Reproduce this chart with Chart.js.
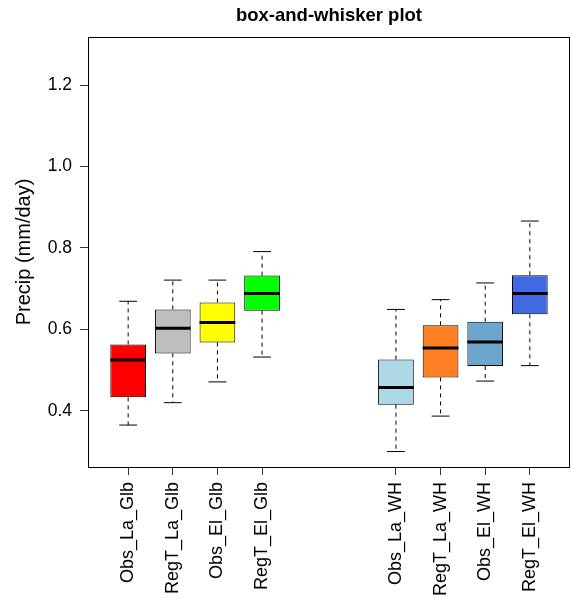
<!DOCTYPE html>
<html>
<head>
<meta charset="utf-8">
<script src="https://cdn.jsdelivr.net/npm/chart.js@4.4.1/dist/chart.umd.min.js"></script>
<style>
  html, body { margin: 0; padding: 0; background: #fff; }
  #wrap { width: 571px; height: 598px; }
</style>
</head>
<body>
<div id="wrap"><canvas id="chart" width="571" height="598"></canvas></div>
<script>
// ---------- data ----------
const labels = ['Obs_La_Glb', 'RegT_La_Glb', 'Obs_El_Glb', 'RegT_El_Glb', 'Obs_La_WH', 'RegT_La_WH', 'Obs_El_WH', 'RegT_El_WH'];
const positions = [1, 2, 3, 4, 7, 8, 9, 10];
const lowerWhisker = [0.365, 0.420, 0.471, 0.532, 0.300, 0.387, 0.473, 0.511];
const q1 = [0.433, 0.541, 0.568, 0.646, 0.415, 0.482, 0.510, 0.637];
const median = [0.525, 0.603, 0.617, 0.688, 0.457, 0.554, 0.569, 0.688];
const q3 = [0.563, 0.649, 0.666, 0.732, 0.526, 0.610, 0.619, 0.733];
const upperWhisker = [0.669, 0.721, 0.721, 0.791, 0.649, 0.673, 0.714, 0.866];
const boxColors = ['#FF0000', '#BEBEBE', '#FFFF00', '#00FF00', '#ADD8E6', '#FF7F24', '#6CA6CD', '#4169E1'];
const yTicks = [0.4, 0.6, 0.8, 1.0, 1.2];

Chart.defaults.font.family = "'Liberation Sans', Arial, sans-serif";
Chart.defaults.color = '#000';

// segments joined into one line dataset, broken by null points
function segments(list) {
  const out = [];
  list.forEach(([a, b]) => { out.push(a, b, { x: b.x, y: null }); });
  return out;
}

const whiskerSegs = [], capSegs = [], medianSegs = [];
positions.forEach((x, i) => {
  whiskerSegs.push([{ x, y: q3[i] }, { x, y: upperWhisker[i] }], [{ x, y: q1[i] }, { x, y: lowerWhisker[i] }]);
  capSegs.push([{ x: x - 0.2, y: upperWhisker[i] }, { x: x + 0.2, y: upperWhisker[i] }],
               [{ x: x - 0.2, y: lowerWhisker[i] }, { x: x + 0.2, y: lowerWhisker[i] }]);
  medianSegs.push([{ x: x - 0.4, y: median[i] }, { x: x + 0.4, y: median[i] }]);
});

const lineBase = { type: 'line', pointRadius: 0, spanGaps: false, fill: false, tension: 0 };

// frame around the plot region (R style box)
const frame = {
  id: 'frame',
  afterDatasetsDraw(chart) {
    const a = chart.chartArea, ctx = chart.ctx;
    ctx.save();
    ctx.strokeStyle = '#000';
    ctx.lineWidth = 1;
    ctx.strokeRect(Math.round(a.left) + 0.5, Math.round(a.top) + 0.5, Math.round(a.right - a.left) - 1, Math.round(a.bottom - a.top));
    ctx.restore();
  }
};

new Chart(document.getElementById('chart'), {
  type: 'bar',
  data: {
    datasets: [
      { ...lineBase, data: segments(medianSegs), borderColor: '#000', borderWidth: 3, order: 0 },
      { ...lineBase, data: segments(capSegs), borderColor: '#000', borderWidth: 1, order: 1 },
      { ...lineBase, data: segments(whiskerSegs), borderColor: '#000', borderWidth: 1, borderDash: [4, 4], order: 2 },
      {
        type: 'bar',
        data: positions.map((x, i) => ({ x, y: [q1[i], q3[i]] })),
        backgroundColor: boxColors, borderColor: '#000', borderWidth: 1, borderSkipped: false,
        barPercentage: 0.8, categoryPercentage: 1, order: 3
      }
    ]
  },
  options: {
    responsive: false, animation: false, events: [],
    layout: { padding: { left: 0, right: 1, top: 0, bottom: 0 } },
    plugins: {
      legend: { display: false }, tooltip: { enabled: false },
      title: { display: true, text: 'box-and-whisker plot', fullSize: false, color: '#000', font: { size: 18.5, weight: 'bold' }, padding: { top: 5, bottom: 9.8 } }
    },
    scales: {
      x: {
        type: 'linear', min: 0.1, max: 10.9, offset: false,
        afterBuildTicks: (s) => { s.ticks = positions.map((v) => ({ value: v })); },
        afterFit: (s) => { s.height = 131; },
        border: { display: false },
        grid: { drawOnChartArea: false, drawTicks: true, tickLength: 8, color: '#333', offset: false },
        ticks: { color: '#000', font: { size: 18 }, padding: 7, minRotation: 90, maxRotation: 90, autoSkip: false, callback: (v, i) => labels[i] }
      },
      y: {
        type: 'linear', min: 0.262, max: 1.318, beginAtZero: false,
        afterBuildTicks: (s) => { s.ticks = yTicks.map((v) => ({ value: v })); },
        afterFit: (s) => { s.width = 88; },
        border: { display: false },
        grid: { drawOnChartArea: false, drawTicks: true, tickLength: 8, color: '#333' },
        ticks: { color: '#000', font: { size: 17.5 }, padding: 8, callback: (v) => v.toFixed(1) },
        title: { display: true, text: 'Precip (mm/day)', color: '#000', font: { size: 20 }, padding: { top: 12, bottom: 0 } }
      }
    }
  },
  plugins: [frame]
});
</script>
</body>
</html>
